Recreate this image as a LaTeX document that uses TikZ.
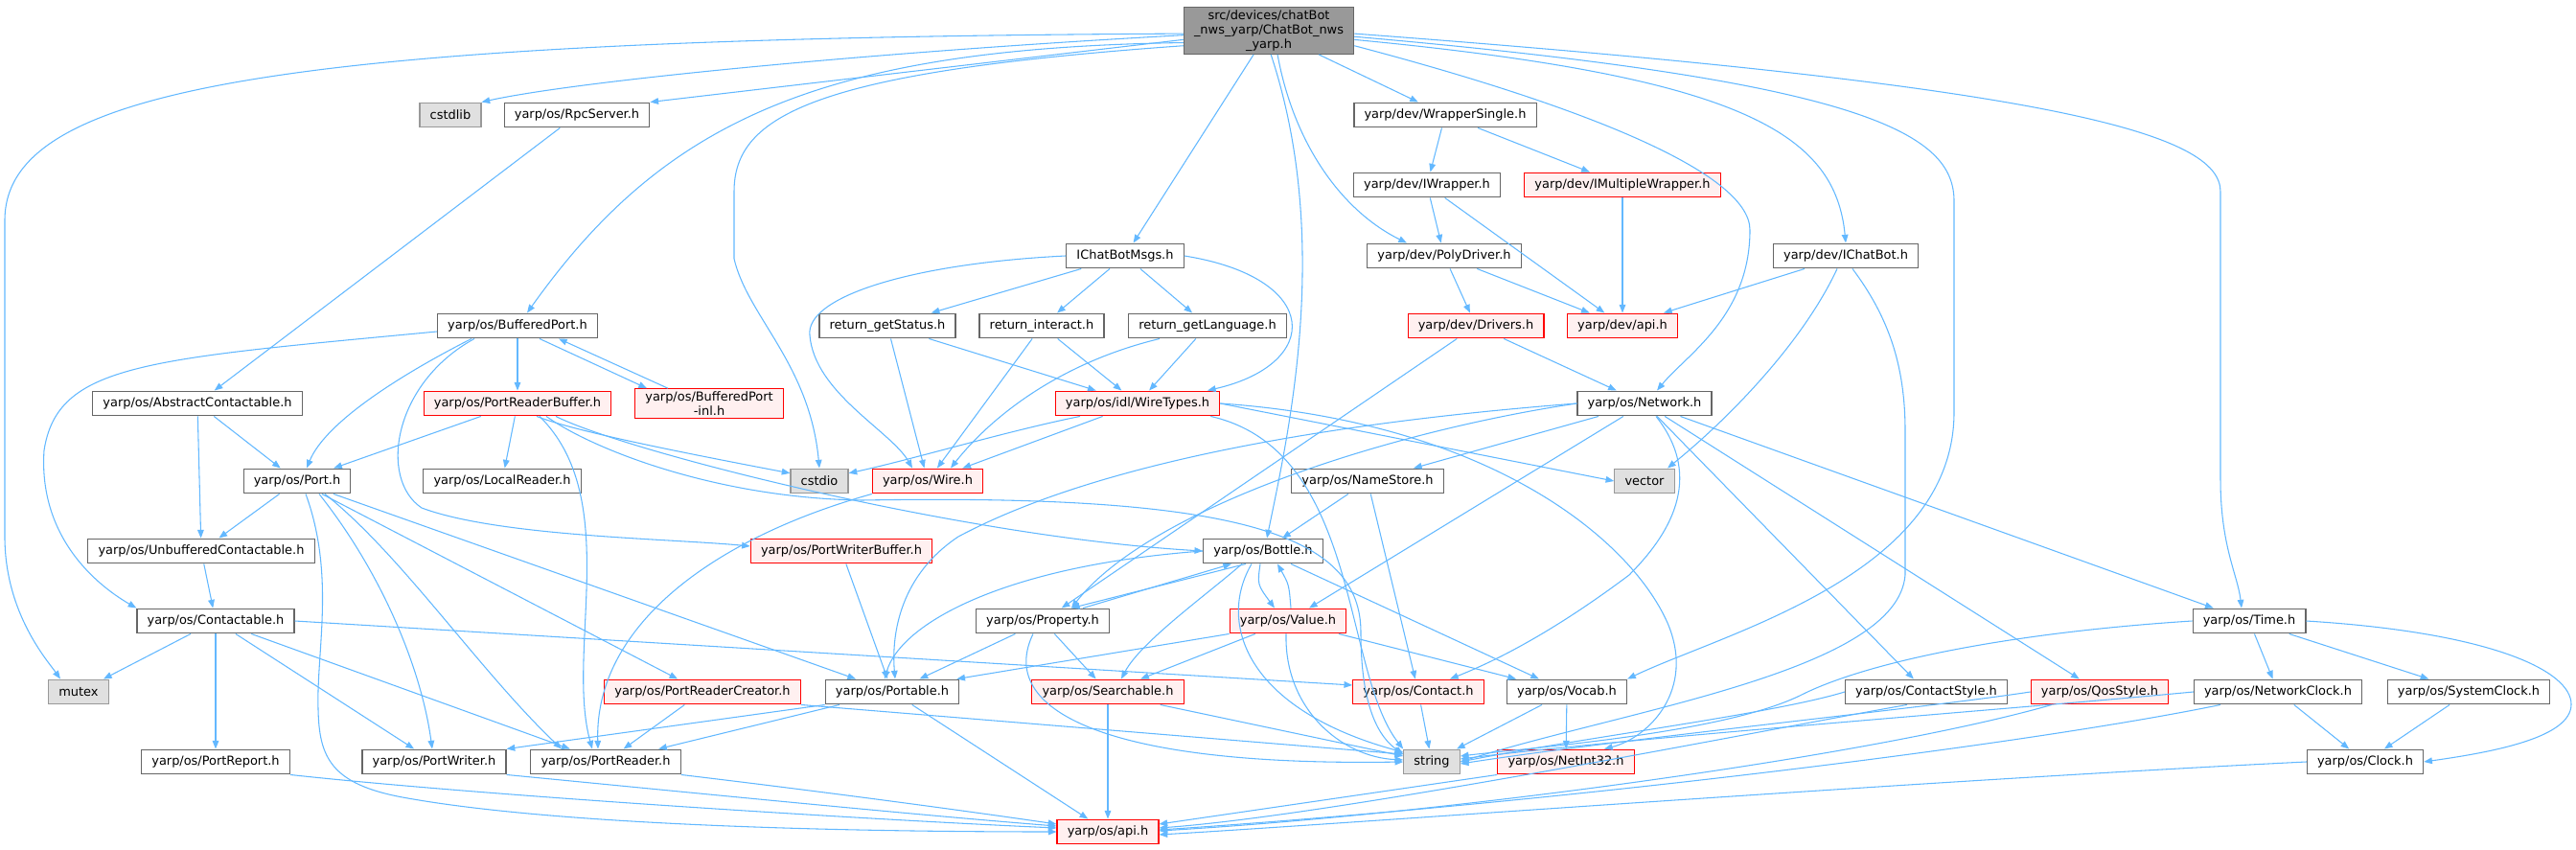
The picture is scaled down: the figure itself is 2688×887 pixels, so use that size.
\documentclass[tikz,border=0pt]{standalone}
\usepackage{fontspec}
\setmainfont{DejaVu Sans}
\usetikzlibrary{arrows.meta,calc}

\definecolor{edgeblue}{HTML}{63B8FF}
\definecolor{boxline}{HTML}{666666}
\definecolor{redline}{HTML}{FF0000}
\definecolor{redfill}{HTML}{FFF0F0}
\definecolor{sysline}{HTML}{999999}
\definecolor{sysfill}{HTML}{E0E0E0}
\definecolor{mainfill}{HTML}{999999}

\begin{document}
\begin{tikzpicture}[
    x=0.75pt, y=-0.75pt,
    box/.style={draw=boxline, fill=white, line width=0.9pt, inner xsep=8pt, inner ysep=2pt, minimum height=19.3pt, font=\fontsize{9.7}{11.4}\selectfont},
    redbox/.style={box, draw=redline, fill=redfill},
    sysbox/.style={box, draw=sysline, fill=sysfill},
    mainbox/.style={box, fill=mainfill, align=center},
    arrow/.style={-{Triangle[length=6.5pt, width=5pt]}, draw=edgeblue, line width=0.8pt}
  ]
  \useasboundingbox (0,0) rectangle (2688,887);

  % Row 0: the documented file
  \node[mainbox] (main) at (1324,32) {src/devices/chatBot\\\_nws\_yarp/ChatBot\_nws\\\_yarp.h};

  % Row 1
  \node[sysbox] (cstdlib) at (470,120) {cstdlib};
  \node[box] (rpcserver) at (602,120) {yarp/os/RpcServer.h};
  \node[box] (wrapsingle) at (1508,120) {yarp/dev/WrapperSingle.h};

  % Row 2
  \node[box] (iwrapper) at (1489,193) {yarp/dev/IWrapper.h};
  \node[redbox] (imultiwrap) at (1693,193) {yarp/dev/IMultipleWrapper.h};

  % Row 3
  \node[box] (ichatmsgs) at (1174,267) {IChatBotMsgs.h};
  \node[box] (polydriver) at (1507,267) {yarp/dev/PolyDriver.h};
  \node[box] (ichatbot) at (1926,267) {yarp/dev/IChatBot.h};

  % Row 4
  \node[box] (bufport) at (540,340) {yarp/os/BufferedPort.h};
  \node[box] (retstatus) at (926,340) {return\_getStatus.h};
  \node[box] (retinteract) at (1087,340) {return\_interact.h};
  \node[box] (retlang) at (1260,340) {return\_getLanguage.h};
  \node[redbox] (drivers) at (1540,340) {yarp/dev/Drivers.h};
  \node[redbox] (devapi) at (1693,340) {yarp/dev/api.h};

  % Row 5
  \node[box] (abscontact) at (206,421) {yarp/os/AbstractContactable.h};
  \node[redbox] (prbuffer) at (540,421) {yarp/os/PortReaderBuffer.h};
  \node[redbox, align=center] (bufportinl) at (740,421) {yarp/os/BufferedPort\\-inl.h};
  \node[redbox] (wiretypes) at (1187,421) {yarp/os/idl/WireTypes.h};
  \node[box] (network) at (1716,421) {yarp/os/Network.h};

  % Row 6
  \node[box] (port) at (310,502) {yarp/os/Port.h};
  \node[box] (localreader) at (524,502) {yarp/os/LocalReader.h};
  \node[sysbox] (cstdio) at (855,502) {cstdio};
  \node[redbox] (wire) at (968,502) {yarp/os/Wire.h};
  \node[box] (namestore) at (1427,502) {yarp/os/NameStore.h};
  \node[sysbox] (vector) at (1716,502) {vector};

  % Row 7
  \node[box] (unbuffered) at (210,575) {yarp/os/UnbufferedContactable.h};
  \node[redbox] (pwbuffer) at (878,575) {yarp/os/PortWriterBuffer.h};
  \node[box] (bottle) at (1318,575) {yarp/os/Bottle.h};

  % Row 8
  \node[box] (contactable) at (225,648) {yarp/os/Contactable.h};
  \node[box] (property) at (1088,648) {yarp/os/Property.h};
  \node[redbox] (value) at (1344,648) {yarp/os/Value.h};
  \node[box] (time) at (2347,648) {yarp/os/Time.h};

  % Row 9
  \node[sysbox] (mutex) at (82,722) {mutex};
  \node[redbox] (prcreator) at (733,722) {yarp/os/PortReaderCreator.h};
  \node[box] (portable) at (931,722) {yarp/os/Portable.h};
  \node[redbox] (searchable) at (1156,722) {yarp/os/Searchable.h};
  \node[redbox] (contact) at (1480,722) {yarp/os/Contact.h};
  \node[box] (vocab) at (1635,722) {yarp/os/Vocab.h};
  \node[box] (contactstyle) at (2010,722) {yarp/os/ContactStyle.h};
  \node[redbox] (qosstyle) at (2191,722) {yarp/os/QosStyle.h};
  \node[box] (netclock) at (2377,722) {yarp/os/NetworkClock.h};
  \node[box] (sysclock) at (2576,722) {yarp/os/SystemClock.h};

  % Row 10
  \node[box] (portreport) at (225,795) {yarp/os/PortReport.h};
  \node[box] (portwriter) at (453,795) {yarp/os/PortWriter.h};
  \node[box] (portreader) at (632,795) {yarp/os/PortReader.h};
  \node[sysbox] (string) at (1494,795) {string};
  \node[redbox] (netint) at (1634,795) {yarp/os/NetInt32.h};
  \node[box] (clock) at (2468,795) {yarp/os/Clock.h};

  % Row 11
  \node[redbox] (osapi) at (1156,868) {yarp/os/api.h};

  % Edges: main file
  \draw[arrow] (main.182) .. controls (300,40) and (5,90) .. (5,230) -- (5,560) .. controls (5,640) and (50,690) .. ($(mutex.north)+(-19,0)$);
  \draw[arrow] (main.183) .. controls (900,55) and (600,85) .. (cstdlib.north east);
  \draw[arrow] (main.186) -- (rpcserver.north east);
  \draw[arrow] (main.188) .. controls (850,50) and (690,130) .. ($(bufport.north)+(10,0)$);
  \draw[arrow] (main.190) .. controls (850,75) and (766,120) .. (766,200) -- (766,270) .. controls (780,330) and (845,380) .. (cstdio.north);
  \draw[arrow] (main) -- (ichatmsgs);
  \draw[arrow] (main.275) .. controls (1390,250) and (1345,450) .. ($(bottle.north)+(4,0)$);
  \draw[arrow] (main.290) .. controls (1350,150) and (1400,220) .. ($(polydriver.north)+(-39,0)$);
  \draw[arrow] (main) -- (wrapsingle);
  \draw[arrow] (main.350) .. controls (1650,110) and (1826,180) .. (1826,240) .. controls (1826,330) and (1760,370) .. ($(network.north)+(13,0)$);
  \draw[arrow] (main.354) .. controls (1820,80) and (1915,140) .. (ichatbot.north);
  \draw[arrow] (main.356) .. controls (1950,85) and (2039,140) .. (2039,210) -- (2039,430) .. controls (2039,600) and (1800,660) .. (vocab.north east);
  \draw[arrow] (main.358) .. controls (2150,90) and (2317,140) .. (2317,200) -- (2317,500) .. controls (2317,570) and (2335,600) .. ($(time.north)+(-8,0)$);

  % Edges: device headers
  \draw[arrow] (wrapsingle) -- (iwrapper);
  \draw[arrow] (wrapsingle) -- (imultiwrap);
  \draw[arrow] (iwrapper) -- (polydriver);
  \draw[arrow] (iwrapper) -- (devapi);
  \draw[arrow] (imultiwrap) -- (devapi);
  \draw[arrow] (polydriver) -- (drivers);
  \draw[arrow] (polydriver) -- (devapi);
  \draw[arrow] (ichatbot) -- (devapi);
  \draw[arrow] ($(ichatbot.south)+(-9,0)$) .. controls (1880,360) and (1800,440) .. ($(vector.north)+(24,0)$);
  \draw[arrow] ($(ichatbot.south)+(7,0)$) .. controls (1970,330) and (1988,380) .. (1988,450) -- (1988,600) .. controls (1980,700) and (1700,740) .. (string.east);
  \draw[arrow] (drivers) -- (network);
  \draw[arrow] (drivers) -- (property);

  % Edges: chat bot messages
  \draw[arrow] (ichatmsgs) -- (retstatus);
  \draw[arrow] (ichatmsgs) -- (retinteract);
  \draw[arrow] (ichatmsgs) -- (retlang);
  \draw[arrow] (ichatmsgs.east) .. controls (1380,290) and (1380,380) .. ($(wiretypes.north)+(73,0)$);
  \draw[arrow] (ichatmsgs.west) .. controls (950,275) and (840,310) .. (845,350) .. controls (850,410) and (930,450) .. ($(wire.north)+(-16,0)$);
  \draw[arrow] (retstatus) -- (wire);
  \draw[arrow] (retstatus) -- (wiretypes);
  \draw[arrow] (retinteract) -- (wire);
  \draw[arrow] (retinteract) -- (wiretypes);
  \draw[arrow] ($(retlang.south)+(-50,0)$) .. controls (1100,380) and (1030,440) .. ($(wire.north)+(24,0)$);
  \draw[arrow] (retlang) -- (wiretypes);
  \draw[arrow] (wiretypes) -- (wire);
  \draw[arrow] ($(wiretypes.south)+(-60,0)$) .. controls (1050,450) and (950,480) .. (cstdio.15);
  \draw[arrow] (wiretypes.east) -- (vector.west);
  \draw[arrow] (wiretypes.east) .. controls (1550,440) and (1700,560) .. (1740,650) .. controls (1770,720) and (1720,770) .. ($(netint.north)+(40,0)$);
  \draw[arrow] ($(wiretypes.south east)+(-10,0)$) .. controls (1420,470) and (1400,700) .. (string.north west);

  % Edges: ports and buffers
  \draw[arrow] (rpcserver) -- (abscontact);
  \draw[arrow] (bufport) -- (prbuffer);
  \draw[arrow] ($(bufport.south)+(23,0)$) -- ($(bufportinl.north)+(-65,0)$);
  \draw[arrow] ($(bufportinl.north)+(-43,0)$) -- ($(bufport.south)+(43,0)$);
  \draw[arrow] ($(bufport.west)+(0,6)$) .. controls (150,375) and (60,380) .. (46,470) .. controls (40,560) and (100,610) .. (contactable.north west);
  \draw[arrow] ($(bufport.south)+(-48,0)$) .. controls (420,390) and (340,440) .. ($(port.north)+(10,0)$);
  \draw[arrow] ($(bufport.south)+(-45,0)$) .. controls (410,400) and (395,500) .. (440,530) .. controls (520,560) and (700,562) .. ($(pwbuffer.west)+(0,-5)$);
  \draw[arrow] (prbuffer) -- (port);
  \draw[arrow] (prbuffer) -- (localreader);
  \draw[arrow] ($(prbuffer.south)+(20,0)$) .. controls (600,450) and (700,470) .. (cstdio.165);
  \draw[arrow] ($(prbuffer.south)+(40,0)$) .. controls (650,470) and (1000,560) .. (bottle.west);
  \draw[arrow] ($(prbuffer.south)+(30,0)$) .. controls (620,470) and (750,520) .. (900,522) .. controls (1300,515) and (1420,560) .. (1420,660) .. controls (1420,740) and (1440,770) .. ($(string.west)+(0,-8)$);
  \draw[arrow] ($(prbuffer.south)+(23,0)$) .. controls (650,520) and (590,680) .. ($(portreader.north)+(-14,0)$);
  \draw[arrow] (abscontact) -- (unbuffered);
  \draw[arrow] (abscontact) -- (port);
  \draw[arrow] (port) -- (unbuffered);
  \draw[arrow] (port) -- (prcreator);
  \draw[arrow] (port) -- (portable);
  \draw[arrow] ($(port.south)+(23,0)$) .. controls (400,600) and (440,700) .. ($(portwriter.north)+(-2,0)$);
  \draw[arrow] ($(port.south)+(29,0)$) .. controls (420,580) and (500,700) .. ($(portreader.north)+(-46,0)$);
  \draw[arrow] ($(port.south)+(9,0)$) .. controls (350,600) and (330,680) .. (332,740) .. controls (333,790) and (345,818) .. (420,832) .. controls (600,865) and (950,868) .. (osapi.west);
  \draw[arrow] (unbuffered) -- (contactable);
  \draw[arrow] (contactable) -- (mutex);
  \draw[arrow] (contactable) -- (portreport);
  \draw[arrow] (contactable) -- (portwriter);
  \draw[arrow] (contactable) -- (portreader);
  \draw[arrow] (contactable.east) -- ($(contact.west)+(0,-7)$);
  \draw[arrow] (pwbuffer) -- (portable);
  \draw[arrow] (prcreator) -- (portreader);
  \draw[arrow] (prcreator.south east) -- ($(string.west)+(0,-8)$);
  \draw[arrow] (portable.south west) -- (portwriter.north east);
  \draw[arrow] (portable) -- (portreader);
  \draw[arrow] (portable) -- (osapi);
  \draw[arrow] (wire.south west) .. controls (750,560) and (620,650) .. ($(portreader.north)+(-8,0)$);

  % Edges: network and values
  \draw[arrow] (network) -- (namestore);
  \draw[arrow] (network) -- (value);
  \draw[arrow] (network.west) .. controls (1450,450) and (1200,530) .. ($(property.north)+(30,0)$);
  \draw[arrow] (network.west) .. controls (1400,440) and (1150,480) .. (1000,560) .. controls (940,600) and (930,660) .. ($(portable.north)+(3,0)$);
  \draw[arrow] ($(network.south)+(12,0)$) .. controls (1780,500) and (1740,560) .. (1700,600) .. controls (1620,660) and (1560,690) .. ($(contact.north)+(33,0)$);
  \draw[arrow] (network) -- (contactstyle);
  \draw[arrow] (network) -- (qosstyle);
  \draw[arrow] (network) -- (time);
  \draw[arrow] (namestore) -- (bottle);
  \draw[arrow] (namestore) -- (contact);
  \draw[arrow] ($(bottle.south)+(-18,0)$) -- ($(property.north)+(30,0)$);
  \draw[arrow] ($(property.north)+(42,0)$) -- ($(bottle.south)+(-33,0)$);
  \draw[arrow] ($(bottle.south)+(-3,0)$) .. controls (1312,610) .. ($(value.north)+(-14,0)$);
  \draw[arrow] ($(value.north)+(3,0)$) .. controls (1345,610) .. ($(bottle.south)+(15,0)$);
  \draw[arrow] (bottle.west) .. controls (1050,590) and (940,650) .. ($(portable.north)+(-8,0)$);
  \draw[arrow] ($(bottle.south)+(-22,0)$) .. controls (1260,620) and (1190,670) .. ($(searchable.north)+(14,0)$);
  \draw[arrow] ($(bottle.south)+(-12,0)$) .. controls (1270,650) and (1300,740) .. ($(string.west)+(0,-10)$);
  \draw[arrow] (bottle) -- (vocab);
  \draw[arrow] (property) -- (portable);
  \draw[arrow] (property) -- (searchable);
  \draw[arrow] ($(property.south)+(-10,0)$) .. controls (1040,740) and (1150,800) .. (string.west);
  \draw[arrow] (value.south west) -- ($(portable.north east)+(-3,0)$);
  \draw[arrow] (value) -- (searchable);
  \draw[arrow] ($(value.south)+(-2,0)$) .. controls (1340,740) and (1400,790) .. ($(string.west)+(0,-2)$);
  \draw[arrow] (value) -- (vocab);
  \draw[arrow] (searchable) -- (osapi);
  \draw[arrow] ($(searchable.south east)+(-25,0)$) -- ($(string.west)+(0,-6)$);
  \draw[arrow] (contact) -- (string);
  \draw[arrow] (vocab) -- (string);
  \draw[arrow] (vocab) -- (netint);
  \draw[arrow] (netint.south west) -- ($(osapi.east)+(0,-8)$);

  % Edges: time and styles
  \draw[arrow] (time.west) .. controls (2100,660) and (1950,690) .. (1880,725) .. controls (1800,765) and (1600,780) .. ($(string.east)+(0,-6)$);
  \draw[arrow] (time) -- (netclock);
  \draw[arrow] (time) -- (sysclock);
  \draw[arrow] (time.east) .. controls (2600,660) and (2683,700) .. (2683,735) .. controls (2683,770) and (2600,785) .. (clock.east);
  \draw[arrow] (netclock) -- (clock);
  \draw[arrow] (sysclock) -- (clock);
  \draw[arrow] (netclock.west) .. controls (2100,740) and (1700,770) .. ($(string.east)+(0,-3)$);
  \draw[arrow] ($(netclock.south)+(-60,0)$) .. controls (2100,780) and (1600,840) .. ($(osapi.east)+(0,-2)$);
  \draw[arrow] (contactstyle.west) .. controls (1850,745) and (1650,770) .. (string.east);
  \draw[arrow] ($(contactstyle.south)+(-20,0)$) .. controls (1850,760) and (1400,850) .. ($(osapi.east)+(0,-4)$);
  \draw[arrow] (qosstyle.west) .. controls (2000,740) and (1700,770) .. ($(string.east)+(0,2)$);
  \draw[arrow] ($(qosstyle.south)+(-50,0)$) .. controls (1950,790) and (1500,850) .. ($(osapi.east)+(0,-1)$);
  \draw[arrow] (clock.west) .. controls (2000,815) and (1400,860) .. ($(osapi.east)+(0,3)$);
  \draw[arrow] (portreport.south east) .. controls (500,830) and (900,855) .. ($(osapi.west)+(0,-4)$);
  \draw[arrow] (portwriter.south east) .. controls (700,825) and (950,850) .. ($(osapi.west)+(0,-6)$);
  \draw[arrow] (portreader.south east) .. controls (850,825) and (1000,845) .. ($(osapi.west)+(0,-8)$);
\end{tikzpicture}
\end{document}
